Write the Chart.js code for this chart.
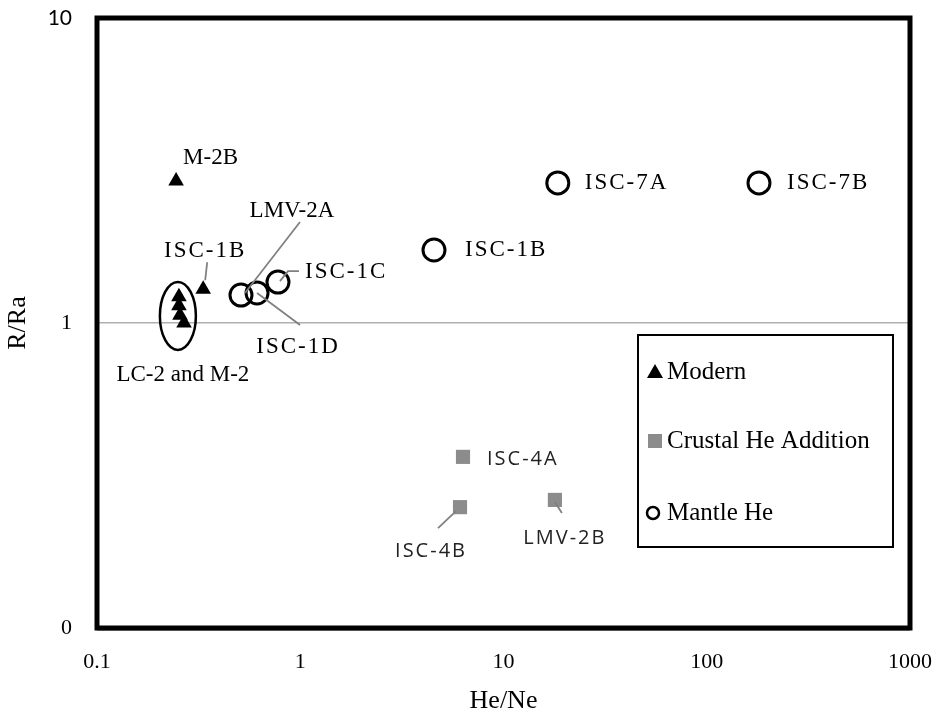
<!DOCTYPE html>
<html>
<head>
<meta charset="utf-8">
<script src="https://cdn.jsdelivr.net/npm/chart.js@4/dist/chart.umd.min.js"></script>
<style>
  html, body { margin: 0; padding: 0; background: #fff; }
  canvas { display: block; }
</style>
</head>
<body>
<canvas id="c" width="940" height="713"></canvas>
<script>
// Helium isotope ratio (R/Ra) against He/Ne for each sample group
const modernHeNe  = [0.245, 0.333, 0.253, 0.253, 0.256, 0.268];
const modernRRa   = [2.92, 1.29, 1.22, 1.14, 1.06, 1.00];
const modernNames = ['M-2B', 'ISC-1B', null, null, null, null];

const crustalHeNe  = [6.32, 6.11, 17.9];
const crustalRRa   = [0.364, 0.249, 0.263];
const crustalNames = ['ISC-4A', 'ISC-4B', 'LMV-2B'];

const mantleHeNe  = [0.511, 0.613, 0.777, 4.55, 18.5, 180.7];
const mantleRRa   = [1.235, 1.254, 1.362, 1.735, 2.88, 2.88];
const mantleNames = ['LMV-2A', 'ISC-1D', 'ISC-1C', 'ISC-1B', 'ISC-7A', 'ISC-7B'];

const seriesNames = ['Modern', 'Crustal He Addition', 'Mantle He'];

const xTicks = [0.1, 1, 10, 100, 1000];
const yTicks = [0.1, 1, 10];
const yTickLabels = ['0', '1', '10'];

// grouped samples enclosed by an ellipse
const groupName = 'LC-2 and M-2';
const groupHeNe = 0.25;
const groupRRa = 1.055;

// label placement (pixel offsets from the marker) and leader lines
const SERIF = '"Liberation Serif", "Times New Roman", serif';
const SANS = '"Open Sans", "Liberation Sans", sans-serif';
const labelStyle = {
  serif: { font: '23px ' + SERIF, color: '#000', spacing: '0px' },
  serifWide: { font: '23px ' + SERIF, color: '#000', spacing: '2px' },
  sans: { font: '20px ' + SANS, color: '#222', spacing: '2px' }
};
const labelPlacement = {
  0: {
    'M-2B':   { dx: 7, dy: -23, align: 'left', style: 'serif' },
    'ISC-1B': { dx: 2, dy: -38, align: 'center', style: 'serifWide', leader: [[4, -27], [2, -9]] }
  },
  1: {
    'ISC-4A': { dx: 24, dy: 2, align: 'left', style: 'sans' },
    'ISC-4B': { dx: -29, dy: 44, align: 'center', style: 'sans', leader: [[-22, 21], [-4, 4]] },
    'LMV-2B': { dx: 10, dy: 38, align: 'center', style: 'sans', leader: [[7, 13], [0, 2]] }
  },
  2: {
    'LMV-2A': { dx: 51, dy: -84, align: 'center', style: 'serif', leader: [[59, -73], [4, -2]] },
    'ISC-1D': { dx: 41, dy: 54, align: 'center', style: 'serifWide', leader: [[0, 0], [43, 32]] },
    'ISC-1C': { dx: 27, dy: -10, align: 'left', style: 'serifWide', leader: [[2, -1], [10, -11], [21, -11]] },
    'ISC-1B': { dx: 31, dy: 0, align: 'left', style: 'serifWide' },
    'ISC-7A': { dx: 27, dy: 0, align: 'left', style: 'serifWide' },
    'ISC-7B': { dx: 28, dy: 0, align: 'left', style: 'serifWide' }
  }
};

const toPoints = (xs, ys) => xs.map((x, i) => ({ x: x, y: ys[i] }));

// plot frame drawn around the chart area
const framePlugin = {
  id: 'frame',
  afterDatasetsDraw(chart) {
    const { ctx, chartArea: a } = chart;
    ctx.save();
    ctx.strokeStyle = '#a0a0a0';
    ctx.lineWidth = 2;
    ctx.beginPath();
    ctx.moveTo(a.left, a.bottom + 2);
    ctx.lineTo(a.right, a.bottom + 2);
    ctx.stroke();
    ctx.strokeStyle = '#000';
    ctx.lineWidth = 5;
    ctx.strokeRect(a.left, a.top, a.right - a.left, a.bottom - a.top);
    ctx.restore();
  }
};

function drawText(ctx, text, x, y, align, st) {
  ctx.font = st.font;
  ctx.fillStyle = st.color;
  ctx.textBaseline = 'middle';
  ctx.letterSpacing = st.spacing;
  ctx.textAlign = align;
  ctx.fillText(text, x, y);
  ctx.letterSpacing = '0px';
}

// sample names, leader lines and the group ellipse
const labelsPlugin = {
  id: 'sampleLabels',
  afterDatasetsDraw(chart) {
    const ctx = chart.ctx;
    ctx.save();
    chart.data.datasets.forEach((ds, di) => {
      const meta = chart.getDatasetMeta(di);
      meta.data.forEach((el, i) => {
        const name = ds.names[i];
        if (!name) return;
        const p = labelPlacement[di][name];
        if (!p) return;
        if (p.leader) {
          ctx.strokeStyle = '#808080';
          ctx.lineWidth = 1.8;
          ctx.beginPath();
          p.leader.forEach((q, k) => {
            if (k === 0) ctx.moveTo(el.x + q[0], el.y + q[1]);
            else ctx.lineTo(el.x + q[0], el.y + q[1]);
          });
          ctx.stroke();
        }
        drawText(ctx, name, el.x + p.dx, el.y + p.dy, p.align, labelStyle[p.style]);
      });
    });
    const gx = chart.scales.x.getPixelForValue(groupHeNe);
    const gy = chart.scales.y.getPixelForValue(groupRRa);
    ctx.strokeStyle = '#000';
    ctx.lineWidth = 2.5;
    ctx.beginPath();
    ctx.ellipse(gx, gy, 18, 34, 0, 0, Math.PI * 2);
    ctx.stroke();
    drawText(ctx, groupName, gx + 5, gy + 59, 'center', labelStyle.serif);
    ctx.restore();
  }
};

// boxed legend inside the plot area
const legendBoxPlugin = {
  id: 'legendBox',
  afterDraw(chart) {
    const ctx = chart.ctx;
    const box = { x: 638, y: 335, w: 255, h: 212 };
    ctx.save();
    ctx.fillStyle = '#fff';
    ctx.fillRect(box.x, box.y, box.w, box.h);
    ctx.strokeStyle = '#000';
    ctx.lineWidth = 2;
    ctx.strokeRect(box.x, box.y, box.w, box.h);
    const rows = [372, 441, 513];
    chart.data.datasets.forEach((ds, i) => {
      const cy = box.y + (rows[i] - 335);
      const mx = box.x + 17;
      ctx.fillStyle = ds.backgroundColor;
      ctx.strokeStyle = ds.borderColor;
      if (ds.pointStyle === 'triangle') {
        ctx.beginPath();
        ctx.moveTo(mx, cy - 8);
        ctx.lineTo(mx + 8, cy + 6);
        ctx.lineTo(mx - 8, cy + 6);
        ctx.closePath();
        ctx.fill();
      } else if (ds.pointStyle === 'rect') {
        ctx.fillRect(mx - 7, cy - 7, 14, 14);
      } else {
        ctx.lineWidth = 2.5;
        ctx.beginPath();
        ctx.arc(mx - 2, cy, 6, 0, Math.PI * 2);
        ctx.stroke();
      }
      drawText(ctx, ds.label, box.x + 29, cy, 'left', { font: '25px ' + SERIF, color: '#000', spacing: '0px' });
    });
    ctx.restore();
  }
};

// keep the plot rectangle fixed regardless of tick label overflow
function fixX(s) {
  s.height = 85;
  s.paddingLeft = 0; s.paddingRight = 0; s.paddingTop = 0; s.paddingBottom = 0;
}
function fixY(s) {
  s.width = 97;
  s.paddingLeft = 0; s.paddingRight = 0; s.paddingTop = 0; s.paddingBottom = 0;
}

new Chart(document.getElementById('c'), {
  type: 'scatter',
  data: {
    datasets: [
      {
        label: seriesNames[0], names: modernNames,
        data: toPoints(modernHeNe, modernRRa),
        pointStyle: 'triangle', pointRadius: 9,
        backgroundColor: '#000', borderColor: '#000', borderWidth: 0
      },
      {
        label: seriesNames[1], names: crustalNames,
        data: toPoints(crustalHeNe, crustalRRa),
        pointStyle: 'rect', pointRadius: 10,
        backgroundColor: '#8c8c8c', borderColor: '#8c8c8c', borderWidth: 0
      },
      {
        label: seriesNames[2], names: mantleNames,
        data: toPoints(mantleHeNe, mantleRRa),
        pointStyle: 'circle', pointRadius: 11,
        backgroundColor: 'rgba(0,0,0,0)', borderColor: '#000', borderWidth: 3
      }
    ]
  },
  options: {
    responsive: false,
    animation: false,
    devicePixelRatio: 1,
    layout: { padding: { top: 18, right: 30, left: 0, bottom: 0 } },
    plugins: { legend: { display: false }, tooltip: { enabled: false } },
    scales: {
      x: {
        type: 'logarithmic', min: 0.1, max: 1000,
        afterBuildTicks: s => { s.ticks = xTicks.map(v => ({ value: v })); },
        afterFit: fixX,
        ticks: {
          autoSkip: false, maxRotation: 0, padding: 21, color: '#000',
          font: { family: SERIF, size: 22 },
          callback: v => String(v)
        },
        grid: { display: false, drawTicks: false },
        border: { display: false },
        title: {
          display: true, text: 'He/Ne', color: '#000',
          font: { family: SERIF, size: 26, lineHeight: 0.9 }, padding: { top: 0, bottom: 0 }
        }
      },
      y: {
        type: 'logarithmic', min: 0.1, max: 10,
        afterBuildTicks: s => { s.ticks = yTicks.map(v => ({ value: v })); },
        afterFit: fixY,
        ticks: {
          autoSkip: false, padding: 25, color: '#000',
          font: c => (c.tick && c.tick.value === 10)
            ? { family: '"Lato", "Open Sans", sans-serif', size: 21 }
            : { family: SERIF, size: 22 },
          callback: v => yTickLabels[yTicks.indexOf(v)]
        },
        grid: {
          drawTicks: false, lineWidth: 1.5,
          color: c => (c.tick && c.tick.value === 1) ? '#b0b0b0' : 'rgba(0,0,0,0)'
        },
        border: { display: false },
        title: {
          display: true, text: 'R/Ra', color: '#000',
          font: { family: SERIF, size: 26 }, padding: { top: 3, bottom: 0 }
        }
      }
    }
  },
  plugins: [framePlugin, labelsPlugin, legendBoxPlugin]
});
</script>
</body>
</html>
